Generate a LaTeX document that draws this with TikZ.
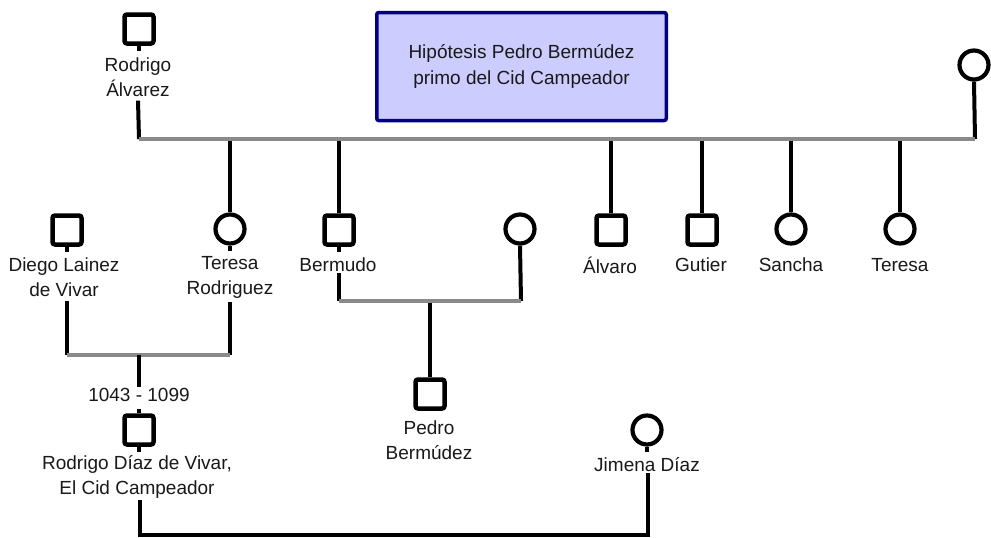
\documentclass[tikz,border=0pt]{standalone}
\usepackage{fontspec}
\setmainfont{Liberation Sans}
\definecolor{gl}{RGB}{138,138,138}
\definecolor{navybox}{RGB}{0,0,128}
\definecolor{lavbox}{RGB}{204,204,255}
\tikzset{
  male/.style={draw=black, line width=4.5pt, fill=white, rounded corners=2.5pt, minimum width=29pt, minimum height=29pt, inner sep=0pt},
  female/.style={draw=black, line width=4.2pt, fill=white, circle, minimum size=29pt, inner sep=0pt},
  lbl/.style={align=center, font=\fontsize{19}{25}\selectfont, text=black!90, inner sep=1pt},
  bline/.style={line width=4pt, black},
  gline/.style={line width=4.5pt, gl},
  tick/.style={line width=4pt, black},
  hyp/.style={draw=navybox, fill=lavbox, line width=3.5pt, rounded corners=2pt, minimum width=289.5pt, minimum height=108pt, align=center, font=\fontsize{19}{26}\selectfont, text=black!90}
}
\begin{document}
\begin{tikzpicture}[x=1pt,y=-1pt]
\path[fill=white] (0,0) rectangle (991,538);
\useasboundingbox (0,0) rectangle (991,538);

% hypothesis box
\node[hyp] (hyp) at (521.5,66.5) {Hipótesis Pedro Bermúdez\\primo del Cid Campeador};

% generation 1
\node[male] (ra) at (139,29) {};
\draw[tick] (ra.south) -- ++(0,5);
\node[lbl] (ralbl) at (138,77) {Rodrigo\\Álvarez};
\node[female] (rw) at (974,65) {};

\coordinate (t1) at (139,139);
\coordinate (t2) at (975,139);

% generation 2
\node[male] (dl) at (67,230) {};
\draw[tick] (dl.south) -- ++(0,5);
\node[lbl] (dllbl) at (64,277) {Diego Lainez\\de Vivar};

\node[female] (tr) at (230,229) {};
\draw[tick] (tr.south) -- ++(0,5);
\node[lbl] (trlbl) at (230,277) {Teresa\\Rodriguez};

\node[male] (be) at (339,230) {};
\draw[tick] (be.south) -- ++(0,5);
\node[lbl] (belbl) at (338,265) {Bermudo};

\node[female] (bw) at (520,229) {};

\node[male] (al) at (611,230) {};
\node[lbl] (allbl) at (610,265) {Álvaro};
\node[male] (gu) at (702,230) {};
\node[lbl] (gulbl) at (701,265) {Gutier};
\node[female] (sa) at (791,229) {};
\node[lbl] (salbl) at (791,265) {Sancha};
\node[female] (te) at (900,229) {};
\node[lbl] (telbl) at (900,265) {Teresa};

% drops from top family line
\draw[bline] (ralbl.south) ++(0,3) -- (t1);
\draw[bline] (rw.south) -- (t2);
\draw[bline] (tr.north |- t1) -- (tr.north);
\draw[bline] (be.north |- t1) -- (be.north);
\draw[bline] (al.north |- t1) -- (al.north);
\draw[bline] (gu.north |- t1) -- (gu.north);
\draw[bline] (sa.north |- t1) -- (sa.north);
\draw[bline] (te.north |- t1) -- (te.north);
\draw[gline] (t1) -- (t2);

% family Diego + Teresa
\coordinate (f2l) at (67,355);
\coordinate (f2r) at (230,355);
\coordinate (f2m) at (139,355);
\draw[bline] (dl |- dllbl.south) ++(0,3) -- (f2l);
\draw[bline] (tr |- trlbl.south) ++(0,3) -- (f2r);
\draw[gline] (f2l) -- (f2r);

\node[lbl] (years) at (139,395) {1043 - 1099};
\node[male] (rd) at (139,430) {};
\draw[bline] (f2m) -- (years.north);
\draw[tick] (rd.north) -- ++(0,-4);
\draw[tick] (rd.south) -- ++(0,5);
\node[lbl] (rdlbl) at (137,477) {Rodrigo Díaz de Vivar,\\El Cid Campeador};

% Jimena
\node[female] (jd) at (647,430) {};
\draw[tick] (jd.south) -- ++(0,5);
\node[lbl] (jdlbl) at (647,465) {Jimena Díaz};

\coordinate (m1) at (140,535);
\coordinate (m2) at (648,535);
\draw[bline] (rdlbl.south -| m1) -- (m1) -- (m2) -- (jdlbl.south -| m2);

% family Bermudo
\coordinate (f3l) at (339,301);
\coordinate (f3r) at (521,301);
\coordinate (f3m) at (430,301);
\draw[bline] (belbl.south -| be) -- (f3l);
\draw[bline] (bw.south) -- (f3r);
\node[male] (pb) at (430,394) {};
\node[lbl] (pblbl) at (429,440) {Pedro\\Bermúdez};
\draw[bline] (f3m) -- (pb.north);
\draw[gline] (f3l) -- (f3r);
\end{tikzpicture}
\end{document}
